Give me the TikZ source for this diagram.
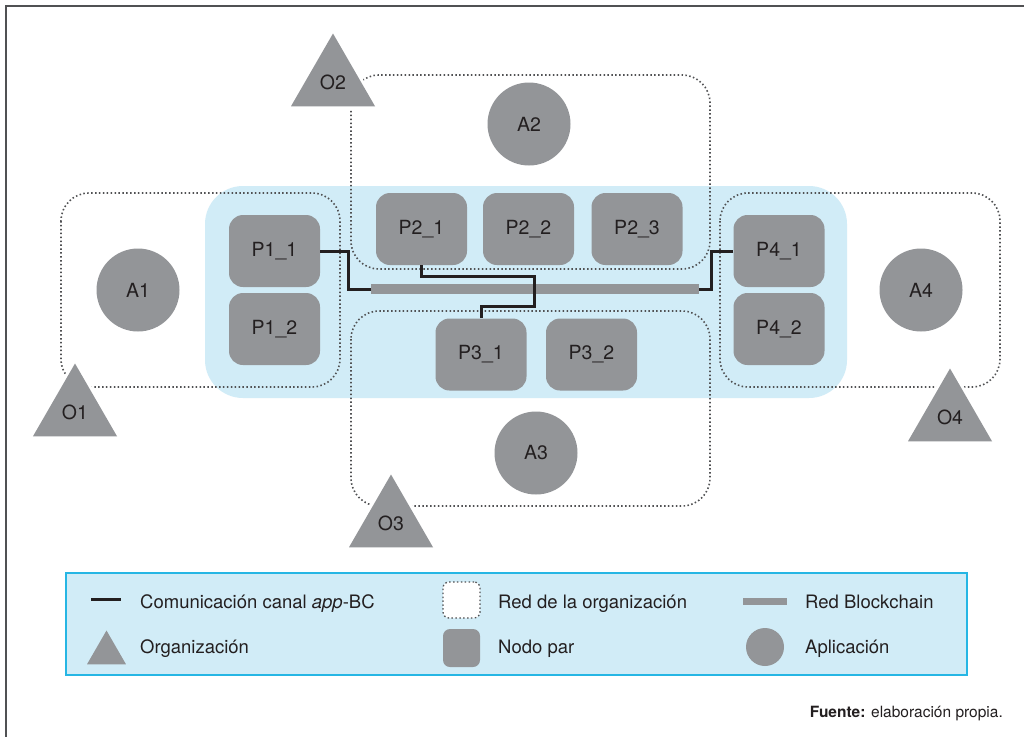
\documentclass[tikz,border=0pt]{standalone}
\usepackage{fontspec}
\setmainfont{TeX Gyre Heros}
\usetikzlibrary{shapes.geometric}
\definecolor{nodegray}{RGB}{147,149,152}
\definecolor{lblue}{RGB}{209,236,247}
\definecolor{lcyan}{RGB}{38,182,228}
\definecolor{dotgray}{RGB}{80,81,83}
\definecolor{txt}{RGB}{35,31,32}
\begin{document}
\begin{tikzpicture}[x=1pt,y=-1pt,
  lbl/.style={text=txt,font=\fontsize{19.5}{19.5}\selectfont},
  peer/.style={lbl,fill=nodegray,rounded corners=14pt,minimum width=91pt,minimum height=72pt,inner sep=0pt},
  app/.style={lbl,circle,fill=nodegray,minimum size=83pt,inner sep=0pt},
  org/.style={lbl,regular polygon,regular polygon sides=3,fill=nodegray,minimum size=97pt,inner sep=0pt,
    preaction={draw=white,line width=6pt}},
  orgnet/.style={draw=dotgray,line width=1.6pt,dash pattern=on 1.5pt off 2.4pt,rounded corners=28pt},
  chan/.style={draw=txt,line width=3pt},
  bcbar/.style={fill=nodegray,inner sep=0pt},
  legtext/.style={text=txt,font=\fontsize{18.5}{19}\selectfont,anchor=base west,inner sep=0pt}]
\useasboundingbox (0,0) rectangle (1024,736);
\fill[white] (0,0) rectangle (1024,736);
% frame
\draw[dotgray,line width=2pt] (6,6) rectangle (1060,780);
% blockchain region
\fill[lblue,rounded corners=38pt] (205,186) rectangle (847,398);
% organisation networks
\draw[orgnet] (61,193) rectangle (340,387);
\draw[orgnet] (351,75) rectangle (710,269);
\draw[orgnet] (351,311) rectangle (710,506);
\draw[orgnet] (720,193) rectangle (1000,387);
% peers
\node[peer] (p11) at (274.5,251) {P1\_1};
\node[peer] (p12) at (274.5,329) {P1\_2};
\node[peer] (p21) at (421.5,229) {P2\_1};
\node[peer] (p22) at (528.5,229) {P2\_2};
\node[peer] (p23) at (637,229) {P2\_3};
\node[peer] (p31) at (481,354.5) {P3\_1};
\node[peer] (p32) at (591.5,354.5) {P3\_2};
\node[peer] (p41) at (779,251) {P4\_1};
\node[peer] (p42) at (779,329) {P4\_2};
% blockchain bar
\node[bcbar,minimum width=328pt,minimum height=10pt] (bar) at (535,289) {};
% channels
\coordinate (j1) at (534,276);
\coordinate (j2) at (534,306);
\draw[chan] (p11.east) -- ++(28,0) |- (bar.west);
\draw[chan] (p41.west) -- ++(-22,0) |- (bar.east);
\draw[chan] (p21.south) |- (j1) -- (j2) -| (p31.north);
% applications
\node[app] (a1) at (138,290) {A1};
\node[app] (a2) at (529,124) {A2};
\node[app] (a3) at (536,453) {A3};
\node[app] (a4) at (921,290) {A4};
% organisations
\node[org] (o1) at (75,412) {O1};
\node[org] (o2) at (333,82) {O2};
\node[org] (o3) at (391,523) {O3};
\node[org] (o4) at (950,417) {O4};
% legend
\draw[fill=lblue,draw=lcyan,line width=1.5pt] (66,573) rectangle (967,675);
\draw[chan] (91,599) -- (121,599);
\node[legtext] (l1) at (140,608) {Comunicación canal \textit{app}-BC};
\node[orgnet,fill=white,rounded corners=6pt,minimum width=37pt,minimum height=36pt,inner sep=0pt,line width=1.3pt] (lorg) at (461.5,600) {};
\node[legtext] (l2) at (498,608) {Red de la organización};
\node[bcbar,minimum width=44pt,minimum height=7pt] (lbar) at (765,601) {};
\node[legtext] (l3) at (805,608) {Red Blockchain};
\node[regular polygon,regular polygon sides=3,fill=nodegray,minimum size=45pt,inner sep=0pt] (ltri) at (106.5,653) {};
\node[legtext] (l4) at (140,653) {Organización};
\node[fill=nodegray,rounded corners=7pt,minimum width=37pt,minimum height=38pt,inner sep=0pt] (lpeer) at (461.5,648) {};
\node[legtext] (l5) at (498,653) {Nodo par};
\node[circle,fill=nodegray,minimum size=38pt,inner sep=0pt] (lapp) at (765,647) {};
\node[legtext] (l6) at (805,653) {Aplicación};
% source
\node[text=txt,font=\fontsize{15.5}{16}\selectfont,anchor=base east,inner sep=0pt] (src) at (1003,717) {\textbf{Fuente:} elaboración propia.};
\end{tikzpicture}
\end{document}
